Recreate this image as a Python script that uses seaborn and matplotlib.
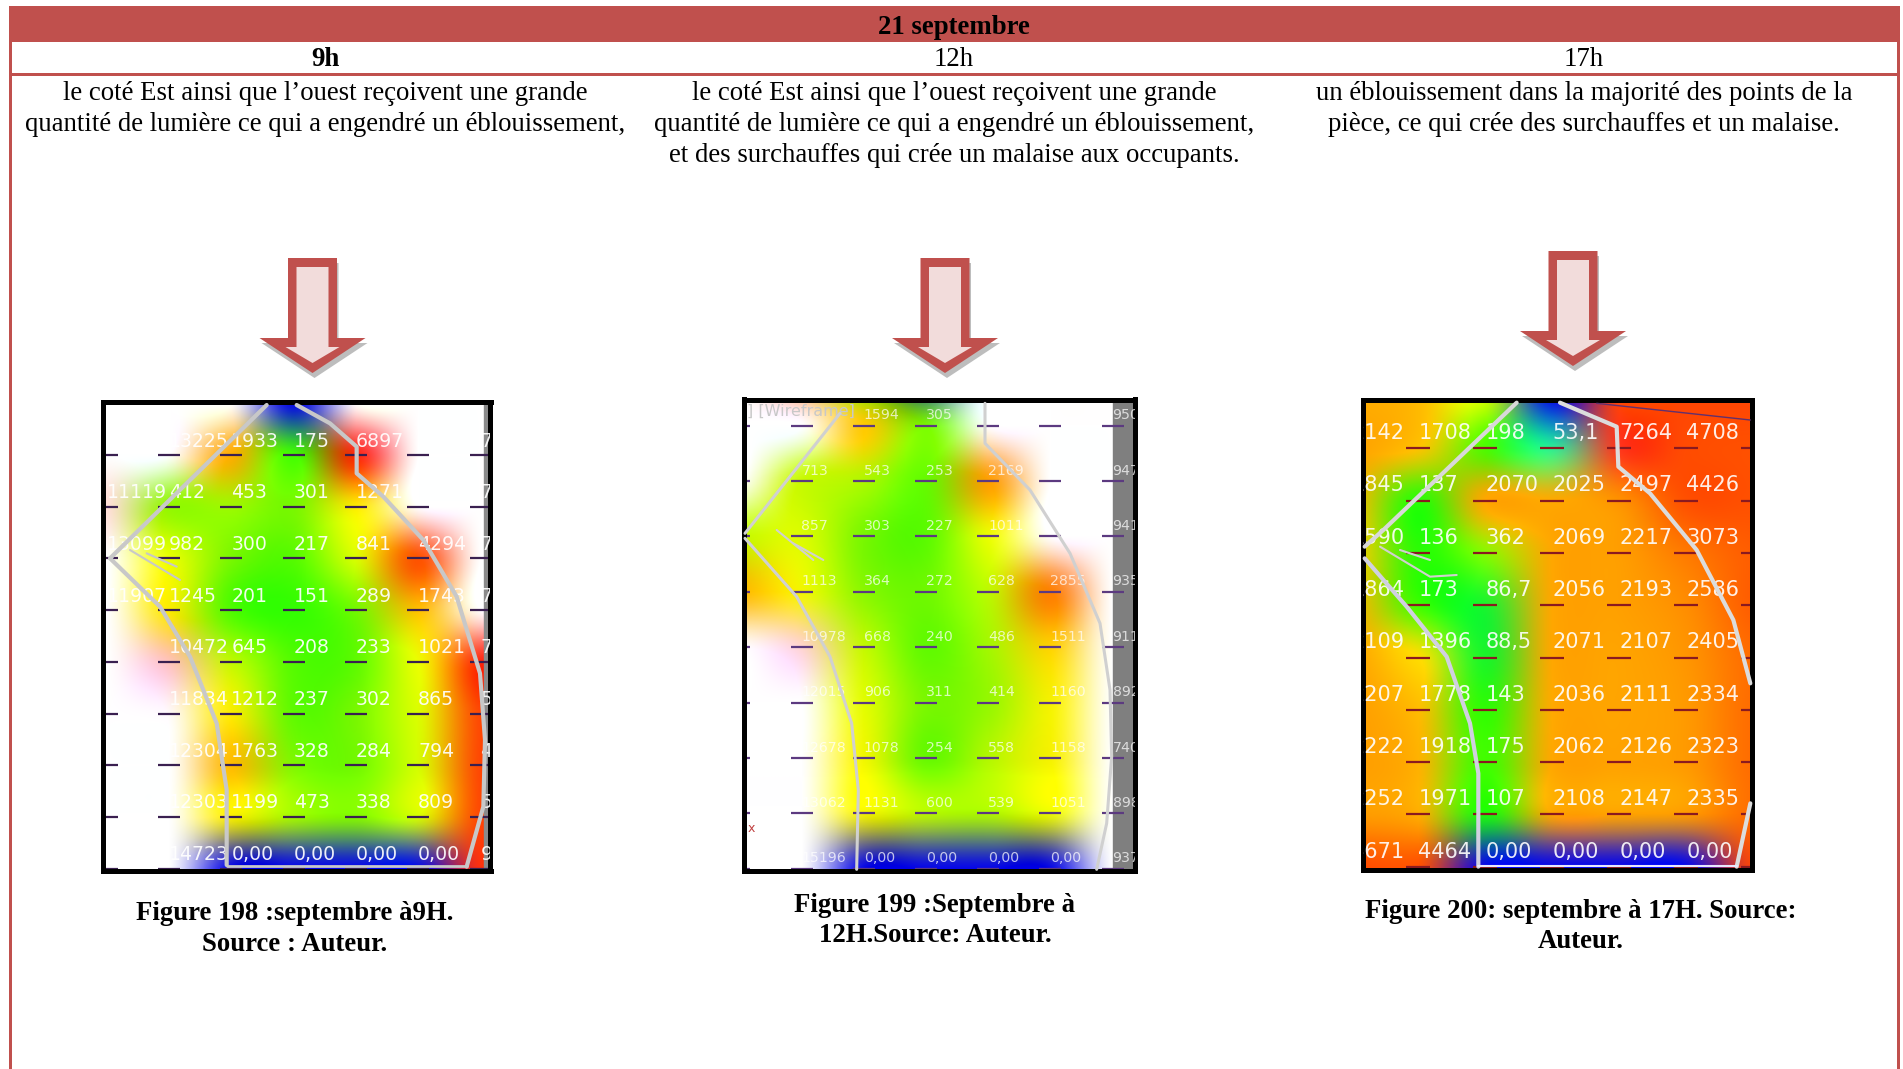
import matplotlib
matplotlib.use("Agg")
import matplotlib.pyplot as plt
import numpy as np
import pandas as pd
import seaborn as sns
from matplotlib.colors import FuncNorm, LinearSegmentedColormap
from matplotlib.patches import Polygon, Rectangle

W, H = 1903, 1069
RED = "#c0504d"
HIDDEN = 20000  # saturated cells, shown white in the render

HOURS = ["9h", "12h", "17h"]
TITLE = "21 septembre"
TEXTS = [
    ["le coté Est ainsi que l’ouest reçoivent une grande",
     "quantité de lumière ce qui a engendré un éblouissement,"],
    ["le coté Est ainsi que l’ouest reçoivent une grande",
     "quantité de lumière ce qui a engendré un éblouissement,",
     "et des surchauffes qui crée un malaise aux occupants."],
    ["un éblouissement dans la majorité des points de la",
     "pièce, ce qui crée des surchauffes et un malaise."],
]
CAPTIONS = [
    ["Figure 198 :septembre à9H.", "Source : Auteur."],
    ["Figure 199 :Septembre à", "12H.Source: Auteur."],
    ["Figure 200: septembre à 17H. Source:", "Auteur."],
]

# illuminance grids, first row has no printed label, last row repeats below the frame
values_9h = [
    [HIDDEN, HIDDEN, HIDDEN, 0, HIDDEN, HIDDEN, HIDDEN],
    [HIDDEN, 13225, 1933, 175, 6897, HIDDEN, HIDDEN],
    [11119, 412, 453, 301, 1271, HIDDEN, HIDDEN],
    [13099, 982, 300, 217, 841, 4294, HIDDEN],
    [11907, 1245, 201, 151, 289, 1743, HIDDEN],
    [HIDDEN, 10472, 645, 208, 233, 1021, 7000],
    [HIDDEN, 11834, 1212, 237, 302, 865, 5000],
    [HIDDEN, 12304, 1763, 328, 284, 794, 5000],
    [HIDDEN, 12303, 1199, 473, 338, 809, 5000],
    [HIDDEN, 14723, 0, 0, 0, 0, 6500],
    [HIDDEN, 14723, 0, 0, 0, 0, 6500],
]
labels_9h = [
    [""] * 7,
    ["", "13225", "1933", "175", "6897", "", "7"],
    ["11119", "412", "453", "301", "1271", "", "7"],
    ["13099", "982", "300", "217", "841", "4294", "7"],
    ["11907", "1245", "201", "151", "289", "1743", "7"],
    ["", "10472", "645", "208", "233", "1021", "7"],
    ["", "11834", "1212", "237", "302", "865", "5"],
    ["", "12304", "1763", "328", "284", "794", "4"],
    ["", "12303", "1199", "473", "338", "809", "5"],
    ["", "14723", "0,00", "0,00", "0,00", "0,00", "9"],
    [""] * 7,
]
values_12h = [
    [HIDDEN, 3000, 150, 0, HIDDEN, HIDDEN, HIDDEN],
    [HIDDEN, HIDDEN, 1594, 305, HIDDEN, HIDDEN, HIDDEN],
    [12000, 713, 543, 253, 2169, HIDDEN, HIDDEN],
    [700, 857, 303, 227, 1011, HIDDEN, HIDDEN],
    [1800, 1113, 364, 272, 628, 2855, HIDDEN],
    [HIDDEN, 10978, 668, 240, 486, 1511, HIDDEN],
    [HIDDEN, 12015, 906, 311, 414, 1160, HIDDEN],
    [HIDDEN, 12678, 1078, 254, 558, 1158, HIDDEN],
    [HIDDEN, 13062, 1131, 600, 539, 1051, HIDDEN],
    [HIDDEN, 15196, 0, 0, 0, 0, HIDDEN],
    [HIDDEN, 15196, 0, 0, 0, 0, HIDDEN],
]
labels_12h = [
    [""] * 7,
    ["", "", "1594", "305", "", "", "950"],
    ["", "713", "543", "253", "2169", "", "947"],
    ["", "857", "303", "227", "1011", "", "941"],
    ["", "1113", "364", "272", "628", "2855", "935"],
    ["", "10978", "668", "240", "486", "1511", "911"],
    ["", "12015", "906", "311", "414", "1160", "892"],
    ["", "12678", "1078", "254", "558", "1158", "740"],
    ["", "13062", "1131", "600", "539", "1051", "898"],
    ["", "15196", "0,00", "0,00", "0,00", "0,00", "937"],
    [""] * 7,
]
values_17h = [
    [2000, 1800, 800, 0, 5000, 5000, 5000],
    [2142, 1708, 198, 53.1, 7264, 4708, 4500],
    [1845, 137, 2070, 2025, 2497, 4426, 4500],
    [1590, 136, 362, 2069, 2217, 3073, 4000],
    [1864, 173, 86.7, 2056, 2193, 2586, 4000],
    [2109, 1396, 88.5, 2071, 2107, 2405, 3500],
    [2207, 1778, 143, 2036, 2111, 2334, 3500],
    [2222, 1918, 175, 2062, 2126, 2323, 3500],
    [2252, 1971, 107, 2108, 2147, 2335, 3500],
    [4671, 4464, 0, 0, 0, 0, 5000],
    [4671, 4464, 0, 0, 0, 0, 5000],
]
labels_17h = [
    [""] * 7,
    ["2142", "1708", "198", "53,1", "7264", "4708", ""],
    ["1845", "137", "2070", "2025", "2497", "4426", ""],
    ["1590", "136", "362", "2069", "2217", "3073", ""],
    ["1864", "173", "86,7", "2056", "2193", "2586", ""],
    ["2109", "1396", "88,5", "2071", "2107", "2405", ""],
    ["2207", "1778", "143", "2036", "2111", "2334", ""],
    ["2222", "1918", "175", "2062", "2126", "2323", ""],
    ["2252", "1971", "107", "2108", "2147", "2335", ""],
    ["4671", "4464", "0,00", "0,00", "0,00", "0,00", ""],
    [""] * 7,
]

# colour stops of the lighting software, value -> colour on a log axis
STOP_VALUES = [0, 50, 100, 160, 300, 600, 1000, 1300, 2100, 4500, 7000, 9000, 12000, HIDDEN]
STOP_COLORS = ["#0808e8", "#30e8a0", "#18f810", "#38ff00", "#78f800", "#b8f800", "#eaff00",
               "#ffe800", "#ffa500", "#ff5000", "#ff2a10", "#ff7a60", "#ffffff", "#ffffff"]


def to_log(v):
    return np.log10(np.asarray(v, dtype=float) + 1)


def from_log(v):
    return 10 ** np.asarray(v, dtype=float) - 1


lo, hi = to_log(0), to_log(HIDDEN)
cmap = LinearSegmentedColormap.from_list(
    "lux", [((to_log(v) - lo) / (hi - lo), c) for v, c in zip(STOP_VALUES, STOP_COLORS)], N=512)
norm = FuncNorm((to_log, from_log), vmin=0, vmax=HIDDEN)

sns.set_theme(style="white")
plt.rcParams["font.family"] = ["Liberation Serif", "DejaVu Sans"]
plt.rcParams["text.color"] = "black"
fig = plt.figure(figsize=(W / 100, H / 100), dpi=100, facecolor="white")


def draw_panel(values, labels, box, col0, col_step, row0, row_step,
               font_size, lift, dash_color, text_alpha, dash_width):
    """One false colour rendering, box is x0, y0, x1, y1 in figure pixels."""
    x0, y0, x1, y1 = box
    ax = fig.add_axes([x0 / W, 1 - y1 / H, (x1 - x0) / W, (y1 - y0) / H])
    data = pd.DataFrame(values)
    sns.heatmap(data, annot=np.array(labels), fmt="", cmap=cmap, norm=norm, cbar=False, ax=ax,
                xticklabels=False, yticklabels=False,
                annot_kws={"color": "white", "fontsize": font_size, "family": "DejaVu Sans",
                           "alpha": text_alpha})
    # smooth the cells the way the render does
    ax.imshow(data.values, cmap=cmap, norm=norm, interpolation="catrom",
              interpolation_stage="rgba", extent=(0, 7, 11, 0), aspect="auto", zorder=1.5)
    for t in ax.texts:
        t.set_ha("left")
        t.set_y(t.get_position()[1] - lift)
        t.set_clip_on(True)
    cols, rows = np.meshgrid(np.arange(7) + 0.5, np.arange(10) + 0.5)
    ax.plot(cols.ravel(), rows.ravel(), ls="", marker="_", color=dash_color,
            markersize=dash_width, markeredgewidth=1.6, zorder=2.5)
    ax.set_xlim(0.5 + (x0 - col0) / col_step, 0.5 + (x1 - col0) / col_step)
    ax.set_ylim(0.5 + (y1 - row0) / row_step, 0.5 + (y0 - row0) / row_step)
    for spine in ax.spines.values():
        spine.set_visible(True)
        spine.set_color("black")
        spine.set_linewidth(3.6)
    return ax


ax_9h = draw_panel(values_9h, labels_9h, (102.5, 401.5, 490.5, 870.5), 106.7, 62.3, 403.3, 51.7,
                   13.6, 0.27, "#3a2050", 0.92, 16)
ax_9h.axvspan(6.55, 7, color="#8a8a8a", zorder=2)
ax_12h = draw_panel(values_12h, labels_12h, (743.5, 399.5, 1134.5, 870.5), 739.3, 62.2, 370.3, 55.4,
                    10.2, 0.19, "#5c3a80", 0.72, 16)
ax_12h.axvspan(6.5, 7, color="#7f7f7f", zorder=2)
ax_12h.text(0.01, 0.975, "] [Wireframe]", transform=ax_12h.transAxes, color="#c8c8c8",
            fontsize=11.5, family="DejaVu Sans", va="center")
ax_12h.text(0.01, 0.09, "x", transform=ax_12h.transAxes, color="#c04040",
            fontsize=9, family="DejaVu Sans", va="center")
ax_17h = draw_panel(values_17h, labels_17h, (1362.5, 399.5, 1752.5, 869.5), 1351.3, 67, 396, 52.3,
                    15, 0.29, "#8a1a20", 0.9, 17)

# page level drawing in figure pixels
page = fig.add_axes([0, 0, 1, 1], facecolor="none")
page.set_xlim(0, W)
page.set_ylim(H, 0)
page.axis("off")

page.add_patch(Rectangle((9, 6), 1891, 36, color=RED, lw=0))
page.add_patch(Rectangle((9, 73), 1891, 3, color=RED, lw=0))
page.add_patch(Rectangle((9, 6), 3, H, color=RED, lw=0))
page.add_patch(Rectangle((1897, 6), 3, H, color=RED, lw=0))

COL_CENTERS = [325, 954, 1584]
page.text(954, 27, TITLE, ha="center", va="center", fontsize=19.3, fontweight="bold")
for i, (cx, hour, lines) in enumerate(zip(COL_CENTERS, HOURS, TEXTS)):
    page.text(cx, 59, hour, ha="center", va="center", fontsize=19.3,
              fontweight="bold" if i == 0 else "normal")
    for k, line in enumerate(lines):
        page.text(cx, 94 + 30.5 * k, line, ha="center", va="center", fontsize=19.3)

for cx, cy, lines in [(295, 914, CAPTIONS[0]), (935, 905, CAPTIONS[1]), (1581, 911, CAPTIONS[2])]:
    for k, line in enumerate(lines):
        page.text(cx, cy + 30.5 * k, line, ha="center", va="center", fontsize=19.3, fontweight="bold")


def arrow_outline(cx, top, half_shaft, half_head, shoulder, tip):
    return [(cx - half_shaft, top), (cx + half_shaft, top), (cx + half_shaft, shoulder),
            (cx + half_head, shoulder), (cx, tip), (cx - half_head, shoulder),
            (cx - half_shaft, shoulder)]


for cx, top in [(312.5, 258), (945, 258), (1573, 251)]:
    shadow = np.array(arrow_outline(cx, top, 24, 53, top + 80, top + 115)) + [2, 5]
    page.add_patch(Polygon(shadow, color="#bdbdbd", lw=0))
    page.add_patch(Polygon(arrow_outline(cx, top, 24.5, 53, top + 80, top + 115), color=RED, lw=0))
    page.add_patch(Polygon(arrow_outline(cx, top + 9, 16, 27, top + 89, top + 105),
                           color="#f2dcdb", lw=0))


def wall(crop_x, points, color="#c8c8c8", lw=3.0, **kws):
    pts = np.array(points, dtype=float) / 3 + [crop_x, 390]
    page.plot(pts[:, 0], pts[:, 1], color=color, lw=lw, solid_capstyle="round", **kws)


wall(90, [(530, 45), (60, 505), (210, 650), (300, 800), (380, 1000), (410, 1200), (410, 1425)])
wall(90, [(620, 45), (720, 100), (800, 170), (800, 250), (880, 320), (1000, 450), (1100, 620),
          (1170, 850), (1185, 1050), (1180, 1250), (1130, 1430)])
wall(90, [(120, 480), (270, 570)], lw=1.5)
wall(90, [(170, 490), (260, 530)], lw=1.5)
wall(90, [(410, 1428), (1130, 1428)], lw=2)

wall(730, [(330, 70), (45, 430)], lw=2.2, color="#d0d0d0")
wall(730, [(45, 445), (200, 620), (300, 800), (365, 1000), (385, 1200), (380, 1438)], lw=2.2, color="#d0d0d0")
wall(730, [(765, 40), (765, 160), (900, 300), (1020, 490), (1110, 700), (1140, 900), (1145, 1100),
           (1130, 1300), (1100, 1438)], lw=2.2, color="#d0d0d0")
wall(730, [(140, 420), (250, 510)], lw=1.5, color="#d0d0d0")
wall(730, [(190, 460), (280, 510)], lw=1.5, color="#d0d0d0")

wall(1350, [(500, 38), (100, 420), (44, 470)], color="#d8d8d8")
wall(1350, [(44, 505), (170, 650), (290, 800), (360, 1000), (385, 1150), (385, 1430)], color="#d0d0e0")
wall(1350, [(630, 38), (800, 110), (805, 230), (900, 310), (1040, 480), (1150, 690), (1201, 880)],
     color="#dcdcdc")
wall(1350, [(1201, 1240), (1160, 1430)], color="#dcdcdc")
wall(1350, [(90, 470), (240, 560), (320, 555)], lw=1.5, color="#d0d0d0")
wall(1350, [(150, 480), (240, 510)], lw=1.5, color="#d0d0d0")
wall(1350, [(385, 1428), (1160, 1428)], lw=1.5, color="#e8e8ff")
wall(1350, [(740, 40), (1201, 90)], lw=1, color="#603070")

fig.savefig("out.png", dpi=100)
plt.close(fig)
